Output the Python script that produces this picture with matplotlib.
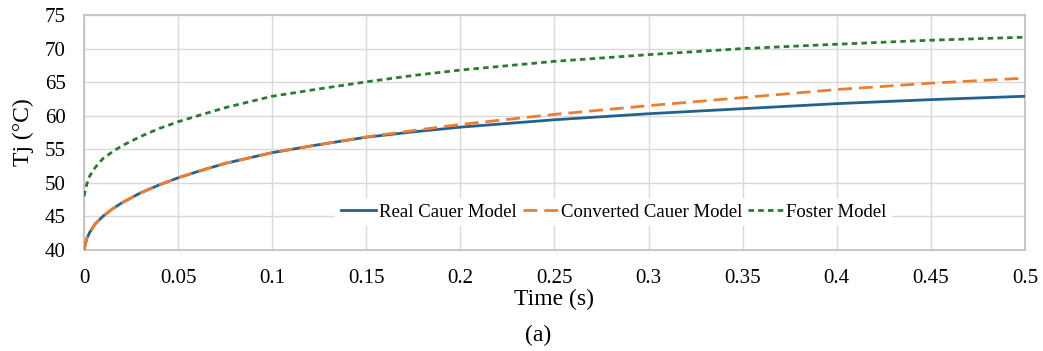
import matplotlib
matplotlib.use("Agg")
import matplotlib.pyplot as plt

plt.rcParams['font.family'] = ['Liberation Serif', 'DejaVu Serif']

time_s = [0, 0.0015, 0.003, 0.006, 0.01, 0.015, 0.02, 0.03, 0.04, 0.05, 0.06, 0.075,
          0.1, 0.125, 0.15, 0.175, 0.2, 0.25, 0.3, 0.35, 0.4, 0.45, 0.5]
real_cauer = [40.0, 41.7, 42.6, 43.9, 45.0, 46.1, 47.0, 48.5, 49.7, 50.75, 51.65, 52.9,
              54.5, 55.7, 56.8, 57.6, 58.3, 59.4, 60.3, 61.05, 61.8, 62.4, 62.9]
converted_cauer = [40.0, 41.7, 42.6, 43.9, 45.0, 46.1, 47.0, 48.5, 49.7, 50.75, 51.65, 52.9,
                   54.5, 55.7, 56.85, 57.8, 58.7, 60.2, 61.5, 62.7, 63.9, 64.85, 65.6]
foster = [48.0, 49.8, 51.0, 52.3, 53.6, 54.6, 55.5, 56.9, 58.1, 59.1, 59.95, 61.2,
          62.9, 64.0, 65.05, 66.0, 66.8, 68.1, 69.1, 70.0, 70.65, 71.25, 71.7]

x_ticks = [0, 0.05, 0.1, 0.15, 0.2, 0.25, 0.3, 0.35, 0.4, 0.45, 0.5]
x_ticklabels = ['0', '0.05', '0.1', '0.15', '0.2', '0.25', '0.3', '0.35', '0.4', '0.45', '0.5']
y_ticks = [40, 45, 50, 55, 60, 65, 70, 75]

fig = plt.figure(figsize=(10.43, 3.51), dpi=100)
ax = fig.add_axes([0.0805, 0.2877, 0.9022, 0.6695])

ax.plot(time_s, real_cauer, color='#24618E', lw=2.0, label='Real Cauer Model', zorder=3)
ax.plot(time_s, converted_cauer, color='#ED7D31', lw=2.0, dashes=(5, 2.5),
        label='Converted Cauer Model', zorder=4)
ax.plot(time_s, foster, color='#2A7A32', lw=2.0, dashes=(2, 1.5),
        label='Foster Model', zorder=5)

ax.set_xlim(0, 0.5)
ax.set_ylim(40, 75)
ax.set_xticks(x_ticks)
ax.set_xticklabels(x_ticklabels)
ax.set_yticks(y_ticks)
ax.tick_params(axis='both', length=0, labelsize=15)
ax.tick_params(axis='y', pad=13)
ax.tick_params(axis='x', pad=14)
ax.grid(True, color='#D9D9D9', lw=1.0, zorder=0)
ax.set_axisbelow(True)
for s in ax.spines.values():
    s.set_color('#BFBFBF')
    s.set_linewidth(1.2)

ax.set_xlabel('Time (s)', fontsize=17, labelpad=0)
ax.set_ylabel('Tj (°C)', fontsize=17, labelpad=8)

leg = ax.legend(loc='center', bbox_to_anchor=(0.563, 0.162), ncol=3, fontsize=13.5,
                frameon=True, framealpha=1, edgecolor='none', facecolor='white',
                handlelength=1.9, handletextpad=0.15, columnspacing=0.3,
                borderpad=0.3, fancybox=False)

fig.text(0.516, 0.045, '(a)', fontsize=17, ha='center', va='center')

fig.savefig('out.png', dpi=100)
